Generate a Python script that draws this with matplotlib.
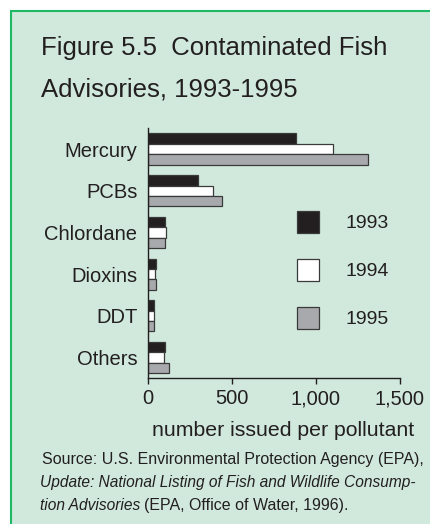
import matplotlib
matplotlib.use("Agg")
import matplotlib.pyplot as plt
from matplotlib.patches import Rectangle
import numpy as np

plt.rcParams['font.family'] = ['Liberation Sans', 'DejaVu Sans']

# Data: number of advisories issued per pollutant
pollutants = ["Mercury", "PCBs", "Chlordane", "Dioxins", "DDT", "Others"]
years = ["1993", "1994", "1995"]
adv_1993 = [880, 300, 103, 49, 39, 103]
adv_1994 = [1101, 390, 107, 45, 39, 99]
adv_1995 = [1309, 439, 103, 49, 37, 125]
x_ticks = [0, 500, 1000, 1500]
x_tick_labels = ["0", "500", "1,000", "1,500"]

title_lines = ["Figure 5.5  Contaminated Fish", "Advisories, 1993-1995"]
x_label = "number issued per pollutant"

W, H = 431, 524
DPI = 100
TEXT = "#231f20"
PANEL = "#d0e9dc"
BORDER = "#1fb866"
FILLS = ["#231f20", "#ffffff", "#a7a9ac"]
EDGE = "#3a3a3a"

fig = plt.figure(figsize=(W / DPI, H / DPI), dpi=DPI)
fig.patch.set_facecolor("white")


def fx(px):
    return px / W


def fy(py):
    return 1 - py / H


# background panel with green border (runs off the right and bottom edges)
fig.add_artist(Rectangle((fx(11), fy(H + 20)), fx(W + 20), (H + 9) / H,
                         transform=fig.transFigure, facecolor=PANEL,
                         edgecolor=BORDER, linewidth=1.5, zorder=0))

# title
for i, line in enumerate(title_lines):
    fig.text(fx(41), fy(55 + 42 * i), line, fontsize=18.5, color=TEXT,
             ha="left", va="baseline")

# bar axes
ax_left, ax_right = 147.7, 400
ax_top, ax_bottom = 128, 378
ax = fig.add_axes([fx(ax_left), fy(ax_bottom), fx(ax_right - ax_left),
                   (ax_bottom - ax_top) / H])
ax.set_facecolor("none")

y = np.arange(len(pollutants))
bar_h = 0.25
for k, (vals, fc) in enumerate(zip([adv_1993, adv_1994, adv_1995], FILLS)):
    ax.barh(y + (k - 1) * bar_h, vals, height=bar_h, color=fc,
            edgecolor=EDGE, linewidth=0.9, zorder=2)

ax.set_xlim(0, 1500)
ax.set_ylim(5.49, -0.504)
ax.set_xticks(x_ticks)
ax.set_xticklabels(x_tick_labels)
ax.set_yticks(y)
ax.set_yticklabels(pollutants)
for s in ["top", "right"]:
    ax.spines[s].set_visible(False)
for s in ["left", "bottom"]:
    ax.spines[s].set_color(TEXT)
    ax.spines[s].set_linewidth(1.0)
ax.tick_params(axis="x", direction="out", length=4, width=1.0, color=TEXT,
               labelsize=14.5, labelcolor=TEXT, pad=4)
ax.tick_params(axis="y", length=0, labelsize=14.5, labelcolor=TEXT, pad=7.5)

# x-axis title
fig.text(fx(283), fy(436), x_label, fontsize=15.3, color=TEXT,
         ha="center", va="baseline")

# legend
for i, (yr, fc) in enumerate(zip(years, FILLS)):
    top = 211 + 48 * i
    fig.add_artist(Rectangle((fx(297), fy(top + 22)), fx(22), 22 / H,
                             transform=fig.transFigure, facecolor=fc,
                             edgecolor=EDGE, linewidth=0.9))
    fig.text(fx(346), fy(228 + 48 * i), yr, fontsize=14, color=TEXT,
             ha="left", va="baseline")

# source note
src_size = 11.5
it_size = 11.2
fig.text(fx(42), fy(464), "Source: U.S. Environmental Protection Agency (EPA),",
         fontsize=src_size, color=TEXT, ha="left", va="baseline")
fig.text(fx(40), fy(487), "Update: National Listing of Fish and Wildlife Consump-",
         fontsize=it_size, color=TEXT, ha="left", va="baseline", style="italic")
t_it = fig.text(fx(40), fy(510), "tion Advisories", fontsize=it_size, color=TEXT,
                ha="left", va="baseline", style="italic")
renderer = fig.canvas.get_renderer()
bb = t_it.get_window_extent(renderer=renderer)
fig.text(bb.x1 / W + fx(4), fy(510), "(EPA, Office of Water, 1996).",
         fontsize=src_size, color=TEXT, ha="left", va="baseline")

fig.savefig("out.png", dpi=DPI, facecolor=fig.get_facecolor())
